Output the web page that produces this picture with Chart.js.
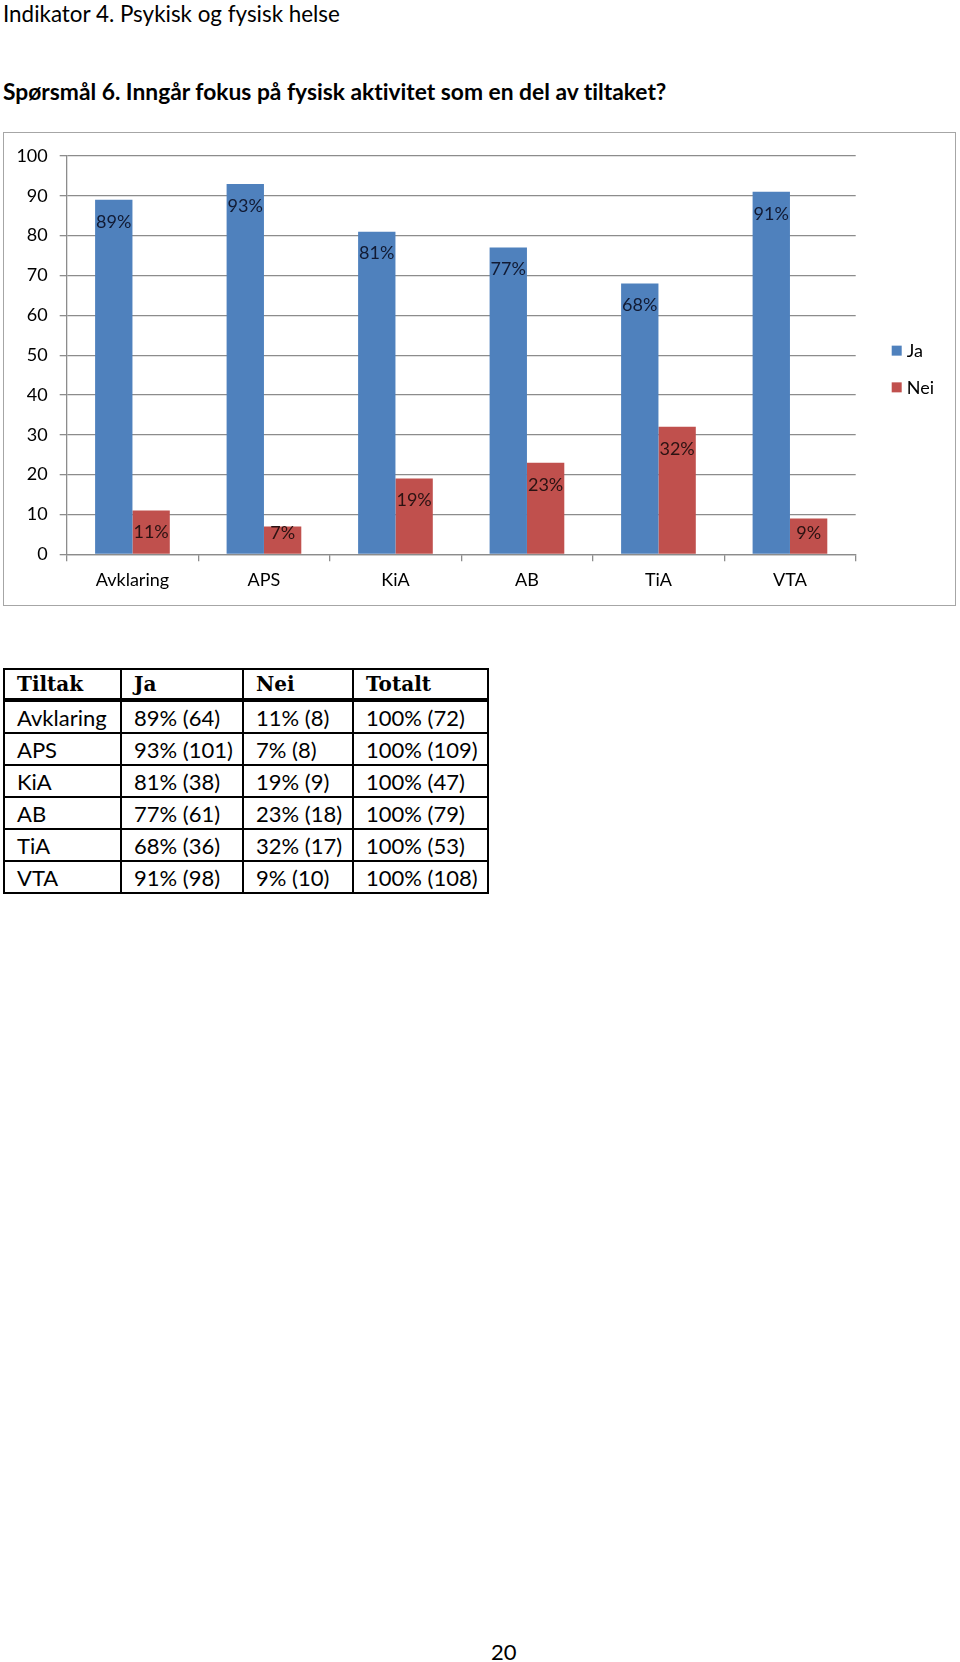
<!DOCTYPE html>
<html>
<head>
<meta charset="utf-8">
<script src="https://cdn.jsdelivr.net/npm/chart.js@4/dist/chart.umd.min.js"></script>
<style>
    body { margin: 0; background: #fff; font-family: Lato, sans-serif; color: #000; font-variant-ligatures: none; }
    .page { position: relative; width: 960px; height: 1662px; }
    .h1 { position: absolute; left: 3px; top: 0px; font-size: 22.4px; line-height: 28px; }
    .h2 { position: absolute; left: 3px; top: 77px; font-size: 22.8px; line-height: 28px; font-weight: bold; }
    .frame { position: absolute; left: 3px; top: 132px; width: 951px; height: 472px; border: 1px solid #a6a6a6; }
    table { position: absolute; left: 3px; top: 668px; border-collapse: collapse; table-layout: fixed; border: 2px solid #000; }
    td, th { border: 2px solid #000; height: 30px; padding: 0 0 0 12px; font-size: 22px; text-align: left; white-space: nowrap; }
    th { font-family: "DejaVu Serif", serif; font-size: 20px; border-bottom: 4px solid #000; height: 28px; }
    .pnum { position: absolute; left: 491px; top: 1638px; font-size: 22px; }
</style>
</head>
<body>
<div class="page">
    <div class="h1">Indikator 4. Psykisk og fysisk helse</div>
    <div class="h2">Spørsmål 6. Inngår fokus på fysisk aktivitet som en del av tiltaket?</div>
    <div class="frame"><canvas id="chart" width="951" height="472"></canvas></div>
    <table id="tbl"></table>
    <div class="pnum">20</div>
</div>
<script>
const categories = ['Avklaring', 'APS', 'KiA', 'AB', 'TiA', 'VTA'];
const jaPct = [89, 93, 81, 77, 68, 91];
const neiPct = [11, 7, 19, 23, 32, 9];
const jaCount = [64, 101, 38, 61, 36, 98];
const neiCount = [8, 8, 9, 18, 17, 10];
const totalCount = [72, 109, 47, 79, 53, 108];
const tableHead = ['Tiltak', 'Ja', 'Nei', 'Totalt'];

const FONT = 'Lato';
const GRID = '#8c8c8c';

// --- table under the chart ---
const colWidths = [117, 122, 110, 135];
const tbl = document.getElementById('tbl');
let html = '<colgroup>' + colWidths.map(w => `<col style="width:${w}px">`).join('') + '</colgroup>';
html += '<tr>' + tableHead.map(h => `<th>${h}</th>`).join('') + '</tr>';
categories.forEach((c, i) => {
    html += `<tr><td>${c}</td><td>${jaPct[i]}% (${jaCount[i]})</td><td>${neiPct[i]}% (${neiCount[i]})</td><td>100% (${totalCount[i]})</td></tr>`;
});
tbl.innerHTML = html;

// value labels inside the bar tops (kept above the axis on short bars)
const barLabels = {
    id: 'barLabels',
    afterDatasetsDraw(chart) {
        const ctx = chart.ctx;
        const maxY = chart.chartArea.bottom - 21.5;
        ctx.save();
        ctx.font = `18px ${FONT}`;
        ctx.textAlign = 'center';
        ctx.textBaseline = 'middle';
        chart.data.datasets.forEach((ds, di) => {
            ctx.fillStyle = ds.labelColor;
            chart.getDatasetMeta(di).data.forEach((el, i) => {
                ctx.fillText(ds.data[i] + '%', el.x, Math.min(el.y + 22, maxY));
            });
        });
        ctx.restore();
    }
};

// legend at the right, built from the datasets
const sideLegend = {
    id: 'sideLegend',
    afterDraw(chart) {
        const ctx = chart.ctx;
        const x = chart.chartArea.right + 36;
        const mid = chart.height / 2;
        ctx.save();
        ctx.font = `18px ${FONT}`;
        ctx.textBaseline = 'middle';
        chart.data.datasets.forEach((ds, i) => {
            const y = mid + (i - 0.5) * 36.7;
            ctx.fillStyle = ds.backgroundColor;
            ctx.fillRect(x, y - 5, 10, 10);
            ctx.fillStyle = '#000';
            ctx.fillText(ds.label, x + 15, y + 1);
        });
        ctx.restore();
    }
};

new Chart(document.getElementById('chart'), {
    type: 'bar',
    data: {
        labels: categories,
        datasets: [
            { label: 'Ja', data: jaPct, backgroundColor: '#4f81bd', labelColor: '#111a33' },
            { label: 'Nei', data: neiPct, backgroundColor: '#c0504d', labelColor: '#2a1212' }
        ]
    },
    options: {
        responsive: false,
        animation: false,
        layout: { padding: { top: 23, left: 0, right: 99.3, bottom: 0 } },
        datasets: { bar: { categoryPercentage: 0.568, barPercentage: 1 } },
        plugins: { legend: { display: false }, tooltip: { enabled: false } },
        scales: {
            x: {
                afterFit: (a) => { a.height = 50.7; },
                grid: { drawOnChartArea: false, drawTicks: true, tickLength: 7, color: GRID, lineWidth: 1.3 },
                border: { color: GRID, width: 1.3 },
                ticks: { color: '#000', font: { family: FONT, size: 18 }, padding: 8 }
            },
            y: {
                min: 0,
                max: 100,
                afterFit: (a) => { a.width = 62.7; },
                grid: { color: GRID, lineWidth: 1.3, tickLength: 7 },
                border: { color: GRID, width: 1.3 },
                ticks: { stepSize: 10, color: '#000', font: { family: FONT, size: 18 }, padding: 12 }
            }
        }
    },
    plugins: [barLabels, sideLegend]
});
</script>
</body>
</html>
